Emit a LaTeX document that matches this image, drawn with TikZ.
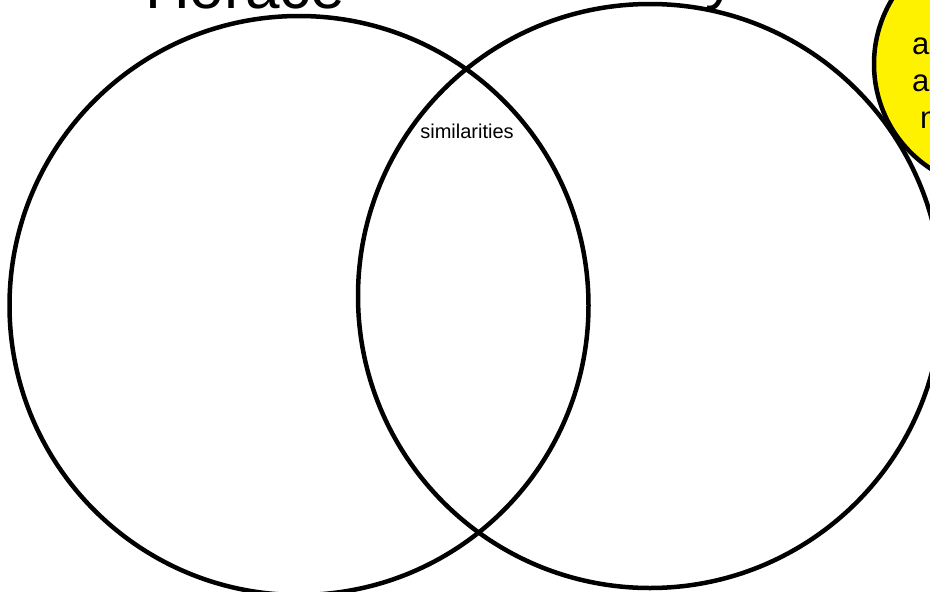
\documentclass[tikz,border=0pt]{standalone}
\usepackage{fontspec}
\setmainfont{Liberation Sans}
\begin{document}
\begin{tikzpicture}[x=1pt,y=-1pt,
  venn/.style={draw=black,line width=4.5pt},
  callout/.style={draw=black,line width=4.5pt,fill=yellow},
  titletext/.style={inner sep=0pt,font=\fontsize{62}{70}\selectfont},
  calltext/.style={inner sep=0pt,font=\fontsize{31}{37}\selectfont},
  smalltext/.style={inner sep=0pt,font=\fontsize{20}{23}\selectfont}]
\useasboundingbox (0,0) rectangle (930,592);
\fill[white] (0,0) rectangle (930,592);
\node[titletext,anchor=base west] (horace) at (145,8) {Horace};
\node[titletext,anchor=base west] (other) at (705,-3) {y};
\draw[venn] (299,305.5) circle[radius=289.5];
\draw[venn] (650,296) circle[radius=292];
\node[smalltext] (sim) at (467,131) {similarities};
\draw[callout] (999,64) circle[radius=125];
\node[calltext,anchor=base west] (c1) at (912,54) {a};
\node[calltext,anchor=base west] (c2) at (912,91) {a};
\node[calltext,anchor=base west] (c3) at (920,128) {n};
\end{tikzpicture}
\end{document}
